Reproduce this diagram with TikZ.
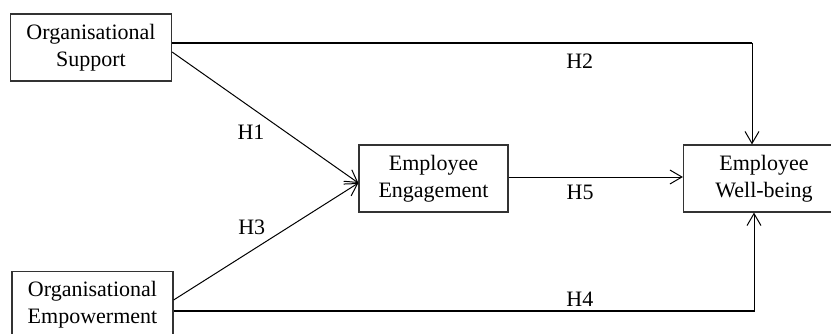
\documentclass[tikz,border=0pt]{standalone}
\usepackage{fontspec}
\setmainfont{Liberation Serif}
\usetikzlibrary{positioning, arrows.meta}

\begin{document}
\begin{tikzpicture}[x=0.5pt, y=-0.5pt,
    every node/.style={font=\fontsize{11}{13.5}\selectfont},
    block/.style={draw=black!80, line width=0.6pt, align=center, minimum width=80.5pt, minimum height=33.5pt, inner sep=0pt},
    hyp/.style={inner sep=2pt},
    >={Straight Barb[length=6pt, width=7pt]}]
    \useasboundingbox (0,0) rectangle (831,333);

    \node[block] (os) at (91,47.5) {Organisational\\Support};
    \node[block] (oe) at (92.5,305) {Organisational\\Empowerment};
    \node[block, minimum width=74.5pt] (ee) at (433.5,178.5) {Employee\\Engagement};
    \node[block] (ew) at (764,178.5) {Employee\\Well-being};

    \path[->, line width=0.5pt]
    ([yshift=-2.25pt]os.east) edge node[hyp, pos=0.52, below left] {H1} ([yshift=-2.25pt]ee.west)
    ([yshift=2.5pt]oe.east) edge node[hyp, pos=0.52, above left] {H3} ([yshift=-2.25pt]ee.west)
    ([yshift=0.75pt]ee.east) edge node[hyp, pos=0.41, below=1.85pt] {H5} ([yshift=0.75pt]ew.west);

    % long paths: thick run, thin drop
    \coordinate (h2s) at ([yshift=2.25pt]os.east);
    \coordinate (h2e) at ([xshift=-6pt]ew.north);
    \coordinate (h2c) at (h2s -| h2e);
    \coordinate (h4s) at ([yshift=-3pt]oe.east);
    \coordinate (h4e) at ([xshift=-5pt]ew.south);
    \coordinate (h4c) at (h4s -| h4e);

    \draw[line width=1pt] (h2s) -- node[hyp, pos=0.703, below=2.85pt] {H2} (h2c);
    \draw[->, line width=0.5pt] ([yshift=0.25pt]h2c) -- (h2e);
    \draw[line width=1pt] (h4s) -- node[hyp, pos=0.70, above] {H4} (h4c);
    \draw[->, line width=0.5pt] ([yshift=-0.25pt]h4c) -- (h4e);
\end{tikzpicture}
\end{document}
